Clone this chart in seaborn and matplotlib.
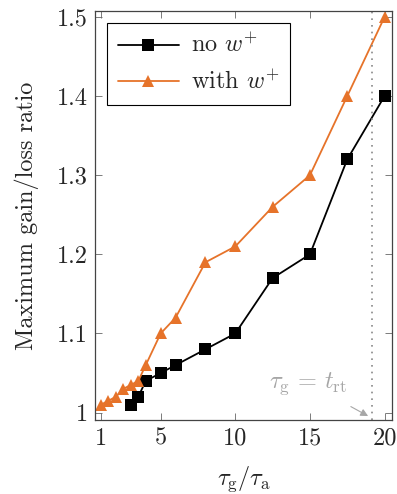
import pandas as pd
import matplotlib
matplotlib.use("Agg")
import matplotlib.pyplot as plt
import seaborn as sns

# data
x_no = [3, 3.5, 4, 5, 6, 8, 10, 12.5, 15, 17.5, 20]
y_no = [1.01, 1.02, 1.04, 1.05, 1.06, 1.08, 1.10, 1.17, 1.20, 1.32, 1.40]
x_with = [1, 1.5, 2, 2.5, 3, 3.5, 4, 5, 6, 8, 10, 12.5, 15, 17.5, 20]
y_with = [1.01, 1.015, 1.02, 1.03, 1.035, 1.04, 1.06, 1.10, 1.12, 1.19, 1.21, 1.26, 1.30, 1.40, 1.50]
x_ticks = [1, 5, 10, 15, 20]
y_ticks = [1, 1.1, 1.2, 1.3, 1.4, 1.5]
y_ticklabels = ["1", "1.1", "1.2", "1.3", "1.4", "1.5"]
t_rt = 19.17

lab_no = r"no $w^{+}$"
lab_with = r"with $w^{+}$"

df = pd.concat([
    pd.DataFrame({"x": x_no, "y": y_no, "serie": lab_no}),
    pd.DataFrame({"x": x_with, "y": y_with, "serie": lab_with}),
])

sns.set_style("ticks")
plt.rcParams["font.family"] = "serif"
plt.rcParams["font.serif"] = ["cmr10"]
plt.rcParams["mathtext.fontset"] = "cm"
plt.rcParams["axes.formatter.use_mathtext"] = True

fs = 17.5
orange = "#e6732a"
fig = plt.figure(figsize=(3.97, 4.94), dpi=100)
ax = fig.add_axes([0.2393, 0.1488, 0.7481, 0.8289])

sns.lineplot(data=df, x="x", y="y", hue="serie", style="serie",
             palette={lab_no: "black", lab_with: orange},
             markers={lab_no: "s", lab_with: "^"}, dashes=False,
             markersize=8, markeredgewidth=0, linewidth=1.3, ax=ax)

ax.axvline(t_rt, color="#888888", linestyle=(0, (1, 3)), linewidth=1.2)
ax.annotate(r"$\tau_{\mathrm{g}}\,=\,t_{\mathrm{rt}}$", xy=(18.9, 0.9956), xytext=(14.9, 1.037),
            color="#a6a6a6", fontsize=fs, ha="center", va="center",
            arrowprops=dict(arrowstyle="-|>", color="#a6a6a6", lw=0.8,
                            shrinkA=10, shrinkB=0, mutation_scale=11))

ax.set_xlim(0.6, 20.5)
ax.set_ylim(0.99, 1.5076)
ax.set_xticks(x_ticks)
ax.set_xticklabels([str(t) for t in x_ticks])
ax.set_yticks(y_ticks)
ax.set_yticklabels(y_ticklabels)
ax.tick_params(direction="in", length=5, width=0.6, color="#666666",
               top=True, right=True, labelsize=fs, pad=5)
for s in ax.spines.values():
    s.set_color("#444444")
    s.set_linewidth(0.9)

ax.set_xlabel(r"$\tau_{\mathrm{g}}/\tau_{\mathrm{a}}$", fontsize=fs, labelpad=11)
ax.set_ylabel("Maximum gain/loss ratio", fontsize=fs, labelpad=13)

h, l = ax.get_legend_handles_labels()
leg = ax.legend(h, l, loc="upper left", fontsize=fs, frameon=True, fancybox=False,
                edgecolor="black", framealpha=1, handlelength=2.5,
                borderaxespad=0.5, borderpad=0.45, labelspacing=0.5, handletextpad=0.5)
leg.get_frame().set_linewidth(0.8)

fig.savefig("out.png", dpi=100)
